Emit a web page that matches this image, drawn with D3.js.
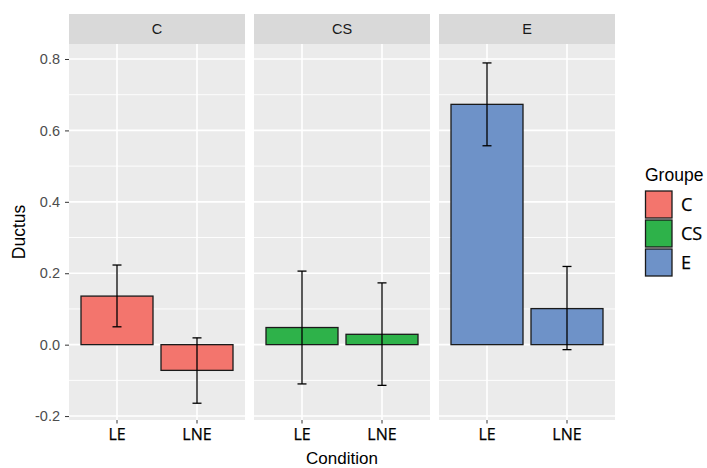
<!DOCTYPE html>
<html>
<head>
<meta charset="utf-8">
<script src="https://cdn.jsdelivr.net/npm/d3@7"></script>
<style>
  html, body { margin: 0; padding: 0; background: #fff; }
  svg { display: block; }
</style>
</head>
<body>
<svg id="chart" width="707" height="468"></svg>
<script>
// ---- Data ----
const groups = ["C", "CS", "E"];
const conditions = ["LE", "LNE"];
const meanC  = [0.136, -0.072];
const meanCS = [0.048, 0.029];
const meanE  = [0.673, 0.101];
const lowC   = [0.050, -0.164];
const lowCS  = [-0.110, -0.114];
const lowE   = [0.557, -0.014];
const highC  = [0.223, 0.019];
const highCS = [0.206, 0.173];
const highE  = [0.789, 0.219];
const yTicks = [-0.2, 0.0, 0.2, 0.4, 0.6, 0.8];
const yMinor = [-0.1, 0.1, 0.3, 0.5, 0.7];
const colors = ["#F3756D", "#2EB24A", "#6E92C8"];

const means = [meanC, meanCS, meanE];
const lows = [lowC, lowCS, lowE];
const highs = [highC, highCS, highE];

const rows = [];
groups.forEach((g, gi) => conditions.forEach((c, ci) => {
  rows.push({group: g, cond: c, mean: means[gi][ci], lo: lows[gi][ci], hi: highs[gi][ci], color: colors[gi]});
}));

const svg = d3.select("#chart");
const panelTop = 44, panelBottom = 420, stripTop = 14;

const facet = d3.scaleBand().domain(groups).range([69, 615]).paddingInner(9 / 185);
const x = d3.scaleBand().domain(conditions).range([0, facet.bandwidth()]).paddingInner(0.1).paddingOuter(0.15);
const y = d3.scaleLinear().domain([-0.211, 0.842]).range([panelBottom, panelTop]);
const color = d3.scaleOrdinal().domain(groups).range(colors);

groups.forEach((g, gi) => {
  const gx = facet(g);
  const w = facet.bandwidth();
  const p = svg.append("g").attr("transform", `translate(${gx},0)`);
  // strip
  p.append("rect").attr("x", 0).attr("y", stripTop).attr("width", w).attr("height", panelTop - stripTop).attr("fill", "#D9D9D9");
  p.append("text").attr("x", w / 2).attr("y", (stripTop + panelTop) / 2).attr("dy", "0.35em")
    .attr("text-anchor", "middle").attr("font-family", "Liberation Sans, Arial, sans-serif")
    .attr("font-size", 14.5).attr("fill", "#1A1A1A").text(g);
  // panel
  p.append("rect").attr("x", 0).attr("y", panelTop).attr("width", w).attr("height", panelBottom - panelTop).attr("fill", "#EBEBEB");
  // minor grid
  p.selectAll(".minor").data(yMinor).enter().append("line")
    .attr("x1", 0).attr("x2", w).attr("y1", d => y(d)).attr("y2", d => y(d))
    .attr("stroke", "#fff").attr("stroke-width", 0.9);
  // major grid
  p.selectAll(".major").data(yTicks).enter().append("line")
    .attr("x1", 0).attr("x2", w).attr("y1", d => y(d)).attr("y2", d => y(d))
    .attr("stroke", "#fff").attr("stroke-width", 1.6);
  p.selectAll(".vmajor").data(conditions).enter().append("line")
    .attr("x1", d => x(d) + x.bandwidth() / 2).attr("x2", d => x(d) + x.bandwidth() / 2)
    .attr("y1", panelTop).attr("y2", panelBottom)
    .attr("stroke", "#fff").attr("stroke-width", 1.6);

  const data = rows.filter(r => r.group === g);
  // bars
  p.selectAll(".bar").data(data).enter().append("rect")
    .attr("x", d => x(d.cond)).attr("width", x.bandwidth())
    .attr("y", d => y(Math.max(0, d.mean))).attr("height", d => Math.abs(y(d.mean) - y(0)))
    .attr("fill", d => color(d.group)).attr("stroke", "#1A1A1A").attr("stroke-width", 1.3);
  // error bars
  const cap = 4.5;
  data.forEach(d => {
    const cx = x(d.cond) + x.bandwidth() / 2;
    p.append("line").attr("x1", cx).attr("x2", cx).attr("y1", y(d.lo)).attr("y2", y(d.hi)).attr("stroke", "#000").attr("stroke-width", 1.3);
    p.append("line").attr("x1", cx - cap).attr("x2", cx + cap).attr("y1", y(d.lo)).attr("y2", y(d.lo)).attr("stroke", "#000").attr("stroke-width", 1.3);
    p.append("line").attr("x1", cx - cap).attr("x2", cx + cap).attr("y1", y(d.hi)).attr("y2", y(d.hi)).attr("stroke", "#000").attr("stroke-width", 1.3);
  });

  // x axis
  const xa = p.append("g").attr("transform", `translate(0,${panelBottom})`)
    .call(d3.axisBottom(x).tickSize(3.5).tickPadding(5));
  xa.select(".domain").remove();
  xa.selectAll(".tick line").attr("stroke", "#333");
  xa.selectAll("text").attr("font-family", "Open Sans, sans-serif").attr("font-size", 16)
    .attr("fill", "#000").attr("stroke", "#000").attr("stroke-width", 0.25);
});

// y axis
const ya = svg.append("g").attr("transform", `translate(69,0)`)
  .call(d3.axisLeft(y).tickValues(yTicks).tickFormat(d3.format(".1f")).tickSize(4).tickPadding(5));
ya.select(".domain").remove();
ya.selectAll(".tick line").attr("stroke", "#333");
ya.selectAll("text").attr("font-family", "Liberation Sans, Arial, sans-serif").attr("font-size", 14.5).attr("fill", "#4D4D4D")
  .text(d => d3.format(".1f")(d).replace("−", "-"));

// axis titles
svg.append("text").attr("transform", `translate(25,${(panelTop + panelBottom) / 2}) rotate(-90)`)
  .attr("text-anchor", "middle").attr("font-family", "Liberation Sans, Arial, sans-serif").attr("font-size", 17.5).attr("fill", "#000").text("Ductus");
svg.append("text").attr("x", 342).attr("y", 464)
  .attr("text-anchor", "middle").attr("font-family", "Liberation Sans, Arial, sans-serif").attr("font-size", 17).attr("fill", "#000").text("Condition");

// legend
const lg = svg.append("g").attr("transform", "translate(645,0)");
lg.append("text").attr("x", 0).attr("y", 181).attr("font-family", "Liberation Sans, Arial, sans-serif").attr("font-size", 17.5).attr("fill", "#000").text("Groupe");
groups.forEach((g, i) => {
  const ky = 191 + i * 29;
  lg.append("rect").attr("x", 0.5).attr("y", ky).attr("width", 26.5).attr("height", 27)
    .attr("fill", color(g)).attr("stroke", "#1A1A1A").attr("stroke-width", 1.3);
  lg.append("text").attr("x", 36).attr("y", ky + 13.5).attr("dy", "0.36em")
    .attr("font-family", "Open Sans, sans-serif").attr("font-size", 18).attr("fill", "#000")
    .attr("stroke", "#000").attr("stroke-width", 0.25).text(g);
});
</script>
</body>
</html>
